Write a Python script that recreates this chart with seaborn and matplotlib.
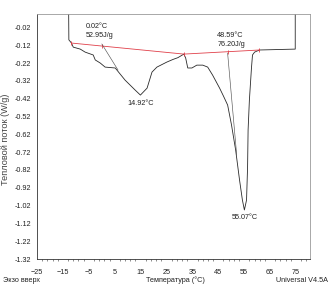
import matplotlib
matplotlib.use("Agg")
import matplotlib.pyplot as plt
from matplotlib import font_manager
import seaborn as sns
import pandas as pd
import numpy as np

# ---- data ----
temp = [-12.9, -12.7, -11.7, -11.0, -8.3, -6.4, -3.3, -2.5, -0.6, 1.3, 5.2, 9.0,
        12.9, 14.92, 17.5, 19.4, 21.3, 25.1, 27.5, 29.4, 31.7, 32.4, 33.2, 34.8,
        36.7, 39.0, 40.9, 42.8, 45.5, 47.0, 48.6, 50.1, 51.7, 53.2, 54.3, 55.07,
        55.9, 56.3, 56.5, 57.0, 57.8, 58.2, 59.0, 60.9, 74.7, 74.7]
heat_flow = [0.30, -0.090, -0.108, -0.131, -0.142, -0.159, -0.175, -0.203, -0.220,
             -0.243, -0.248, -0.316, -0.372, -0.400, -0.361, -0.271, -0.243, -0.215,
             -0.200, -0.190, -0.170, -0.192, -0.248, -0.248, -0.232, -0.232, -0.243,
             -0.288, -0.361, -0.406, -0.456, -0.568, -0.709, -0.877, -0.989, -1.045,
             -0.989, -0.804, -0.596, -0.428, -0.248, -0.175, -0.159, -0.147, -0.142, 0.30]
baseline_t = [-11.7, 31.7, 60.9]
baseline_v = [-0.108, -0.170, -0.147]
tangent1_t = [0.02, 6.3]
tangent1_v = [-0.113, -0.260]
tangent2_t = [48.59, 52.1]
tangent2_v = [-0.164, -0.737]
marks_t = [-11.7, 0.02, 31.7, 48.59, 60.9]
y_ticks = [-0.02, -0.12, -0.22, -0.32, -0.42, -0.52, -0.62, -0.72, -0.82, -0.92,
           -1.02, -1.12, -1.22, -1.32]
x_ticks = [-25, -15, -5, 5, 15, 25, 35, 45, 55, 65, 75]
annotations = [
    ("0.02°C\n52.95J/g", 0.0),
    ("48.59°C\n76.20J/g", 48.59),
]

sns.set_style("white")
names = {f.name for f in font_manager.fontManager.ttflist}
if "Liberation Sans Narrow" in names:
    fam = ["Liberation Sans Narrow", "DejaVu Sans"]
    fs = 6.2
else:
    fam = ["Liberation Sans", "DejaVu Sans"]
    fs = 5.2
plt.rcParams["font.family"] = fam
tc = "#222222"

fig = plt.figure(figsize=(3.30, 2.88), dpi=100)
ax = fig.add_axes([37 / 330, 1 - 259 / 288, (310 - 37) / 330, (259 - 14) / 288])

df = pd.DataFrame({"T": temp, "HF": heat_flow})
sns.lineplot(data=df, x="T", y="HF", sort=False, estimator=None, ax=ax,
             color="#2a2a2a", lw=0.6)

bl = pd.DataFrame({"T": baseline_t, "HF": baseline_v})
sns.lineplot(data=bl, x="T", y="HF", sort=False, estimator=None, ax=ax,
             color="#e0404a", lw=0.6)
mv = np.interp(marks_t, baseline_t, baseline_v)
ax.plot(marks_t, mv, ls="none", marker="|", ms=3.5, mew=0.6, color="#e0404a")

for tt, vv in ((tangent1_t, tangent1_v), (tangent2_t, tangent2_v)):
    ax.plot(tt, vv, color="#555555", lw=0.45)

ax.set_xlim(-25, 80.4)
ax.set_ylim(-1.32, 0.055)
ax.set_xticks(x_ticks)
ax.set_xticks(np.arange(-25, 80, 2), minor=True)
ax.set_yticks(y_ticks)
ax.set_yticklabels([f"{v:.2f}" for v in y_ticks])
ax.tick_params(axis="both", which="major", direction="out", length=2.5, width=0.5,
               labelsize=fs, colors="#333333", labelcolor=tc, pad=1.5)
ax.tick_params(axis="x", which="minor", direction="out", length=1.5, width=0.4,
               colors="#333333", bottom=True)
ax.tick_params(axis="x", which="major", pad=4.5)
ax.set_xlabel("")
ax.set_ylabel("")
for s in ("left", "bottom"):
    ax.spines[s].set_color("#333333")
    ax.spines[s].set_linewidth(0.6)
for s in ("top", "right"):
    ax.spines[s].set_color("#9a9a9a")
    ax.spines[s].set_linewidth(0.6)

ax.text(-6.3, -0.040, annotations[0][0], fontsize=fs, color=tc, ha="left",
        va="center", linespacing=1.3)
ax.text(44.6, -0.090, annotations[1][0], fontsize=fs, color=tc, ha="left",
        va="center", linespacing=1.3)
ax.text(14.92, -0.425, "14.92°C", fontsize=fs, color=tc, ha="center", va="top")
ax.text(55.07, -1.07, "55.07°C", fontsize=fs, color=tc, ha="center", va="top")

fig.text(5.5 / 330, 1 - 139 / 288, "Тепловой поток (W/g)", rotation=90, fontsize=6.6,
         family=["Liberation Sans", "DejaVu Sans"],
         color="#444444", ha="center", va="center")
fig.text(175 / 330, 1 - 280.5 / 288, "Температура (°C)", fontsize=fs, color=tc,
         ha="center", va="center")
fig.text(3 / 330, 1 - 281 / 288, "Экзо вверх", fontsize=fs, color=tc,
         ha="left", va="center")
fig.text(328 / 330, 1 - 281 / 288, "Universal V4.5A", fontsize=fs, color=tc,
         ha="right", va="center")

fig.savefig("out.png", dpi=100)
